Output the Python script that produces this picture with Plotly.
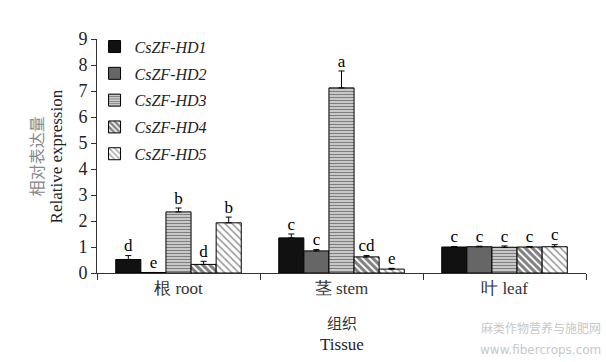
import plotly.graph_objects as go

tissues = ["根 root", "茎 stem", "叶 leaf"]
genes = ["CsZF-HD1", "CsZF-HD2", "CsZF-HD3", "CsZF-HD4", "CsZF-HD5"]
values = {
    "CsZF-HD1": [0.52, 1.35, 1.00],
    "CsZF-HD2": [0.02, 0.85, 1.01],
    "CsZF-HD3": [2.35, 7.12, 0.99],
    "CsZF-HD4": [0.33, 0.62, 1.00],
    "CsZF-HD5": [1.93, 0.15, 1.01],
}
errors = {
    "CsZF-HD1": [0.15, 0.15, 0.02],
    "CsZF-HD2": [0.00, 0.05, 0.02],
    "CsZF-HD3": [0.15, 0.65, 0.05],
    "CsZF-HD4": [0.12, 0.05, 0.02],
    "CsZF-HD5": [0.22, 0.03, 0.08],
}
letters = {
    "CsZF-HD1": ["d", "c", "c"],
    "CsZF-HD2": ["e", "c", "c"],
    "CsZF-HD3": ["b", "a", "c"],
    "CsZF-HD4": ["d", "cd", "c"],
    "CsZF-HD5": ["b", "e", "c"],
}

styles = {
    "CsZF-HD1": dict(color="#111111"),
    "CsZF-HD2": dict(color="#666666"),
    "CsZF-HD3": dict(color="white", pattern=dict(shape="-", fgcolor="black", bgcolor="white", size=3, solidity=0.62)),
    "CsZF-HD4": dict(color="white", pattern=dict(shape="\\", fgcolor="black", bgcolor="white", size=5, solidity=0.62)),
    "CsZF-HD5": dict(color="white", pattern=dict(shape="\\", fgcolor="#333333", bgcolor="white", size=5, solidity=0.32)),
}

serif = "Liberation Serif"
fig = go.Figure()
for g in genes:
    fig.add_trace(go.Bar(
        x=tissues, y=values[g], name="<i>" + g + "</i>", offsetgroup=g, legendgroup=g,
        marker=dict(line=dict(color="black", width=1), **styles[g]),
        error_y=dict(type="data", symmetric=False, array=errors[g],
                     arrayminus=[0] * len(tissues), color="black", thickness=1, width=3),
    ))
for g in genes:
    tops = [v + e for v, e in zip(values[g], errors[g])]
    fig.add_trace(go.Scatter(
        x=tissues, y=tops, mode="text", text=letters[g], textposition="top center",
        offsetgroup=g, showlegend=False, cliponaxis=False,
        textfont=dict(family=serif, size=17, color="black"),
    ))

fig.update_layout(
    width=606, height=362,
    margin=dict(l=97, r=20, t=39, b=89, autoexpand=False),
    paper_bgcolor="white", plot_bgcolor="white",
    barmode="group", scattermode="group", bargap=0.23, bargroupgap=0,
    showlegend=True,
    legend=dict(x=-0.005, y=1.04, xanchor="left", yanchor="top",
                font=dict(family=serif, size=16, color="#222"),
                bgcolor="rgba(0,0,0,0)", traceorder="grouped", tracegroupgap=3,
                itemwidth=30),
    font=dict(family=serif, color="#222"),
)
fig.update_yaxes(range=[0, 9], dtick=1, showline=True, linecolor="#333", linewidth=1,
                 ticks="outside", ticklen=5, tickcolor="#333", showgrid=False, zeroline=False,
                 tickfont=dict(family=serif, size=18, color="#222"))
fig.update_xaxes(showline=True, linecolor="#333", linewidth=1, ticks="outside",
                 tickson="boundaries", ticklen=6, tickcolor="#333", showgrid=False,
                 tickfont=dict(family=serif, size=17, color="#333"))

fig.add_annotation(xref="paper", yref="paper", x=-0.124, y=0.5, xanchor="center", yanchor="middle",
                   text="相对表达量", textangle=-90, showarrow=False,
                   font=dict(family="Noto Sans CJK SC", size=16, color="#888"))
fig.add_annotation(xref="paper", yref="paper", x=-0.083, y=0.5, xanchor="center", yanchor="middle",
                   text="Relative expression", textangle=-90, showarrow=False,
                   font=dict(family=serif, size=17, color="#222"))
fig.add_annotation(xref="paper", yref="paper", x=0.5, y=-0.21, xanchor="center", yanchor="middle",
                   text="组织", showarrow=False,
                   font=dict(family="Noto Sans CJK SC", size=15, color="#333"))
fig.add_annotation(xref="paper", yref="paper", x=0.5, y=-0.305, xanchor="center", yanchor="middle",
                   text="Tissue", showarrow=False,
                   font=dict(family=serif, size=17, color="#222"))
fig.add_annotation(xref="paper", yref="paper", x=1.035, y=-0.235, xanchor="right", yanchor="middle",
                   text="麻类作物营养与施肥网", showarrow=False,
                   font=dict(family="Noto Sans CJK SC", size=12, color="#c8c8c8"))
fig.add_annotation(xref="paper", yref="paper", x=1.035, y=-0.33, xanchor="right", yanchor="middle",
                   text="www.fibercrops.com", showarrow=False,
                   font=dict(family="DejaVu Sans", size=12, color="#c8c8c8"))

fig.write_html("out.html", config={"displayModeBar": False},
               post_script="document.body.style.margin='0';")
